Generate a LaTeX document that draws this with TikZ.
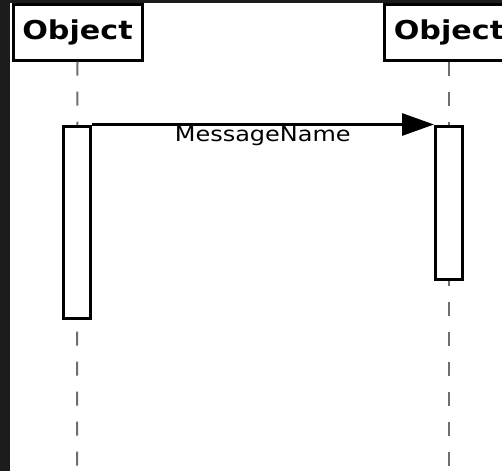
\documentclass[tikz,border=0pt]{standalone}
\usepackage{fontspec}
\setmainfont{DejaVu Sans}
\usetikzlibrary{arrows.meta}

\definecolor{framebg}{HTML}{1C1C1C}
\definecolor{lifegray}{HTML}{6E6E6E}

\tikzset{
  objbox/.style={draw, line width=3pt, fill=white, minimum width=129pt,
    minimum height=56pt, inner sep=0pt,
    font=\fontsize{26}{30}\selectfont\bfseries},
  actbox/.style={draw, line width=3pt, fill=white, minimum width=27pt, inner sep=0pt},
  lifeline/.style={draw=lifegray, line width=2pt, dash pattern=on 14pt off 16pt},
  msg/.style={line width=3pt, -{Triangle[length=32pt,width=22pt]}},
}

\begin{document}
\begin{tikzpicture}[x=1pt,y=-1pt]
  \useasboundingbox (0,0) rectangle (502,471);
  \clip (0,0) rectangle (502,471);
  \fill[framebg] (0,0) rectangle (502,471);
  \fill[white] (10,3) rectangle (502,471);

  % heads of the two lifelines
  \node[objbox] (obja) at (77.5,32) {\scalebox{1.16}[1]{Object}};
  \node[objbox] (objb) at (449,32) {\scalebox{1.16}[1]{Object}};
  \coordinate (enda) at (77,471);
  \coordinate (endb) at (449,471);

  \draw[lifeline] (obja.south) -- (enda);
  \draw[lifeline] (objb.south) -- (endb);

  % activations
  \node[actbox, minimum height=192pt] (acta) at (76.5,222) {};
  \node[actbox, minimum height=153pt] (actb) at (449,202.5) {};

  \draw[msg] (acta.north east) -- (actb.north west)
    node[midway, anchor=base, yshift=-17pt, font=\fontsize{20.5}{24}\selectfont]
    (msglabel) {\scalebox{1.17}[1]{MessageName}};
\end{tikzpicture}
\end{document}
